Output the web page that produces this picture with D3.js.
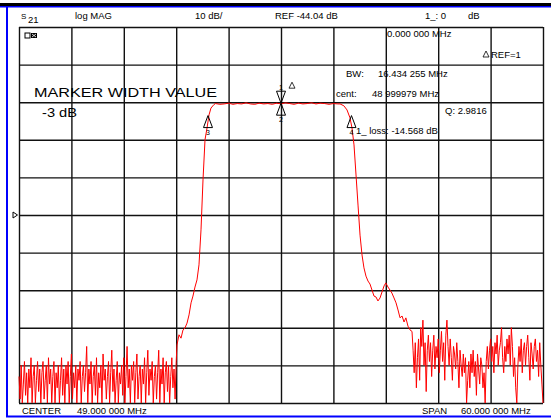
<!DOCTYPE html>
<html lang="en">
<head>
<meta charset="utf-8">
<script src="https://d3js.org/d3.v7.min.js"></script>
<style>
  html, body { margin: 0; padding: 0; background: #fff; overflow: hidden; }
  svg { display: block; }
  text { font-family: "Liberation Sans", Arial, sans-serif; fill: #000; }
</style>
</head>
<body>
<div id="chart"></div>
<script>
// sweep settings
const centerMHz = 49, spanMHz = 60;
const refDb = -44.04, dbPerDiv = 10;

// noise floor below the passband, 19 MHz upward in 0.125 MHz steps
const lowNoiseStart = 19, noiseStep = 0.125;
const lowNoise = [
  -87,-93,-84,-96,-89,-83,-92,-86,-97,-85,-90,-82,-94,-87,-84,-95,-88,-83,-91,-85,
  -98,-86,-83,-93,-88,-84,-96,-82,-89,-85,-94,-87,-83,-97,-86,-90,-84,-95,-88,-82,
  -92,-85,-96,-84,-89,-83,-94,-87,-81,-93,-86,-90,-84,-97,-85,-88,-83,-95,-87,-84,
  -91,-86,-79,-94,-85,-89,-83,-96,-87,-84,-92,-82,-95,-86,-90,-84,-97,-81,-88,-85,
  -93,-87,-83,-96,-86,-80,-91,-85,-94,-88,-83,-97,-86,-89,-84,-92,-82,-95,-87,-79,
  -90,-85,-96,-84,-88,-83,-94,-86,-81,-93,-87,-84,-97,-85,-89,-82,-95,-86,-80,-92,
  -85,-88,-83,-96,-87,-84,-93,-86,-80,-94,-85,-89,-82,-97,-86,-83,-91,-84,-95,-87,
  -82,-90,-85,-93,-83];

// lower skirt [MHz, dB]
const lowSkirt = [[37.09,-78.6],[37.32,-75.9],[37.55,-76.8],[37.78,-74.6],[38.0,-74.1],[38.24,-72.8],
  [38.47,-70.6],[38.70,-67.4],[38.92,-65.6],[39.15,-63.2],[39.38,-61.3],[39.61,-57.3],[39.84,-48.0],
  [40.07,-34.7],[40.30,-24.0],[40.53,-20.9],[40.76,-17.4],[40.98,-15.6],[41.33,-14.65]];

// passband, 41.5 MHz upward in 0.5 MHz steps
const passStart = 41.5, passStep = 0.5;
const passband = [-14.4,-14.6,-14.5,-14.3,-14.6,-14.4,-14.5,-14.2,-14.5,-14.6,-14.3,-14.5,-14.4,-14.6,
  -14.3,-14.5,-14.2,-14.4,-14.6,-14.3,-14.5,-14.4,-14.2,-14.5,-14.3,-14.4,-14.6,-14.4,-14.5];

// upper skirt [MHz, dB]
const highSkirt = [[55.76,-14.5],[56.2,-15.0],[56.56,-16.1],[56.9,-18.2],[57.13,-20.9],[57.36,-25.4],
  [57.59,-33.4],[57.82,-41.4],[58.05,-49.4],[58.28,-54.7],[58.5,-58.1],[58.73,-60.3],[58.96,-61.6],
  [59.19,-62.4],[59.42,-64.0],[59.65,-65.6],[59.88,-65.85],[60.1,-66.9],[60.34,-66.1],[60.57,-64.5],
  [60.8,-62.9],[61.0,-62.1],[61.25,-63.2],[61.48,-64.0],[61.7,-64.8],[61.94,-66.1],[62.17,-67.4],
  [62.4,-69.3],[62.63,-71.4],[62.86,-70.9],[63.09,-72.5],[63.3,-71.4],[63.54,-73.6],[63.77,-74.6]];

// noise floor above the passband, 64 MHz upward in 0.125 MHz steps
const highNoiseStart = 64;
const highNoise = [
  -75,-80,-86,-78,-90,-82,-77,-88,
  -74,-79,-72,-84,-78,-91,-80,-76,
  -83,-78,-87,-80,-76,-85,-79,-82,
  -77,-86,-80,-75,-83,-78,-88,-76,
  -72,-79,-84,-77,-82,-88,-79,-81,
  -85,-78,-83,-90,-80,-84,-87,-81,
  -86,-82,-96,-88,-83,-90,-81,-86,
  -80,-87,-83,-92,-81,-85,-89,-82,
  -84,-90,-86,-97,-83,-79,-85,-80,
  -77,-83,-79,-86,-78,-81,-76,-84,
  -80,-78,-74,-82,-86,-79,-83,-77,
  -81,-76,-84,-74,-79,-87,-82,-90,
  -96,-84,-79,-83,-77,-86,-80,-78,
  -84,-79,-76,-82,-88,-78,-81,-85,
  -79,-77,-83,-80,-87,-78,-84,-89,
  -95];

// markers: id, MHz, dB, pointing
const markers = [
  {id: "1", f: 49, db: -14.3, dir: "down"},
  {id: "2", f: 49, db: -14.3, dir: "up"},
  {id: "3", f: 40.64, db: -17.6, dir: "up"},
  {id: "4", f: 57.07, db: -17.6, dir: "up"}
];

const trace = []
  .concat(lowNoise.map((v, i) => [lowNoiseStart + i * noiseStep, v]))
  .concat(lowSkirt)
  .concat(passband.map((v, i) => [passStart + i * passStep, v]))
  .concat(highSkirt)
  .concat(highNoise.map((v, i) => [highNoiseStart + i * noiseStep, v]));

const W = 551, H = 419;
const gL = 19, gR = 543, gT = 27, gB = 403;

const svg = d3.select("#chart").append("svg")
  .attr("width", W).attr("height", H);

const x = d3.scaleLinear()
  .domain([centerMHz - spanMHz / 2, centerMHz + spanMHz / 2])
  .range([gL, gR]);
const y = d3.scaleLinear()
  .domain([refDb - 5 * dbPerDiv, refDb + 5 * dbPerDiv])
  .range([gB, gT])
  .clamp(true);

// frame
svg.append("rect").attr("x", 0).attr("y", 3).attr("width", W).attr("height", 3).attr("fill", "#000");
svg.append("rect").attr("x", 0).attr("y", 6).attr("width", W).attr("height", 1.5).attr("fill", "#0000ff");
svg.append("rect").attr("x", 6).attr("y", 6).attr("width", 2).attr("height", 411).attr("fill", "#0000ff");
svg.append("rect").attr("x", 6).attr("y", 415.5).attr("width", W - 6).attr("height", 2).attr("fill", "#0000ff");

// grid
const xTicks = d3.range(0, 11).map(i => x.domain()[0] + i * spanMHz / 10);
const yTicks = d3.range(0, 11).map(i => y.domain()[0] + i * dbPerDiv);

svg.append("g")
  .attr("transform", `translate(0,${gB})`)
  .call(d3.axisBottom(x).tickValues(xTicks).tickSize(-(gB - gT)).tickFormat(""))
  .call(g => g.select(".domain").remove())
  .call(g => g.selectAll("line").attr("stroke", "#111").attr("stroke-width", 1.4));

svg.append("g")
  .attr("transform", `translate(${gL},0)`)
  .call(d3.axisLeft(y).tickValues(yTicks).tickSize(-(gR - gL)).tickFormat(""))
  .call(g => g.select(".domain").remove())
  .call(g => g.selectAll("line").attr("stroke", "#111").attr("stroke-width", 1.4));

// trace
svg.append("path")
  .datum(trace)
  .attr("fill", "none")
  .attr("stroke", "#ff0000")
  .attr("stroke-width", 1)
  .attr("d", d3.line().x(d => x(d[0])).y(d => y(d[1])));

// markers
const mk = svg.append("g");
markers.forEach(m => {
  const px = x(m.f), py = y(m.db);
  const s = m.dir === "down" ? -1 : 1;
  mk.append("path")
    .attr("d", `M${px},${py} L${px - 4.5},${py + s * 12} L${px + 4.5},${py + s * 12} Z`)
    .attr("fill", "none").attr("stroke", "#000").attr("stroke-width", 1);
  mk.append("text")
    .attr("x", px).attr("y", m.dir === "down" ? py - 13 : py + 19)
    .attr("text-anchor", "middle")
    .style("font-size", "7px")
    .text(m.id);
});
// reference marker tag next to marker 1
const rx = x(49) + 11, ry = y(-14.3) - 15;
mk.append("path")
  .attr("d", `M${rx},${ry - 6} L${rx - 3},${ry} L${rx + 3},${ry} Z`)
  .attr("fill", "none").attr("stroke", "#000").attr("stroke-width", 0.8);

// reference level pointer on the left edge
const ly = y(refDb);
svg.append("path")
  .attr("d", `M${gL - 6},${ly - 3} L${gL - 1.5},${ly} L${gL - 6},${ly + 3} Z`)
  .attr("fill", "#fff").attr("stroke", "#000").attr("stroke-width", 1);

// header
const hdr = svg.append("g").style("font-size", "9.5px");
hdr.append("text").attr("x", 21).attr("y", 19).style("font-size", "8px").text("S");
hdr.append("text").attr("x", 28).attr("y", 23).text("21");
hdr.append("text").attr("x", 75).attr("y", 19).text("log MAG");
hdr.append("text").attr("x", 195).attr("y", 19).text("10 dB/");
hdr.append("text").attr("x", 275).attr("y", 19).text("REF -44.04 dB");
hdr.append("text").attr("x", 425).attr("y", 19).text("1_: 0");
hdr.append("text").attr("x", 468).attr("y", 19).text("dB");

// little status icon
svg.append("rect").attr("x", 25).attr("y", 33).attr("width", 5).attr("height", 5)
  .attr("fill", "none").attr("stroke", "#000").attr("stroke-width", 1);
svg.append("rect").attr("x", 31).attr("y", 33).attr("width", 6).attr("height", 5)
  .attr("fill", "#000");
svg.append("path").attr("d", "M32,34 L36,37 M36,34 L32,37").attr("stroke", "#fff").attr("stroke-width", 0.8);

// marker readout
const rd = svg.append("g").style("font-size", "9.5px");
rd.append("text").attr("x", 387).attr("y", 37).text("0.000 000 MHz");
rd.append("path").attr("d", "M483,57 L486,51 L489,57 Z")
  .attr("fill", "none").attr("stroke", "#000").attr("stroke-width", 0.8);
rd.append("text").attr("x", 491).attr("y", 58).text("REF=1");
rd.append("text").attr("x", 346).attr("y", 77).text("BW:");
rd.append("text").attr("x", 378).attr("y", 77).text("16.434 255 MHz");
rd.append("text").attr("x", 336).attr("y", 97).text("cent:");
rd.append("text").attr("x", 372).attr("y", 97).text("48 999979 MHz");
rd.append("text").attr("x", 445).attr("y", 114).text("Q: 2.9816");
rd.append("text").attr("x", 356).attr("y", 134).text("1_ loss: -14.568 dB");

// marker width note
const note = svg.append("g").style("font-size", "13px");
note.append("text").attr("x", 34).attr("y", 97)
  .attr("textLength", 183).attr("lengthAdjust", "spacingAndGlyphs")
  .text("MARKER WIDTH VALUE");
note.append("text").attr("x", 42).attr("y", 117)
  .attr("textLength", 35).attr("lengthAdjust", "spacingAndGlyphs")
  .text("-3 dB");

// footer
const ftr = svg.append("g").style("font-size", "9.5px");
ftr.append("text").attr("x", 22).attr("y", 414).text("CENTER");
ftr.append("text").attr("x", 77).attr("y", 414).text("49.000 000 MHz");
ftr.append("text").attr("x", 422).attr("y", 414).text("SPAN");
ftr.append("text").attr("x", 461).attr("y", 414).text("60.000 000 MHz");

// keep the strip right of the grid blank
svg.append("rect").attr("x", 545).attr("y", 8).attr("width", 6).attr("height", 407).attr("fill", "#fff");
</script>
</body>
</html>
